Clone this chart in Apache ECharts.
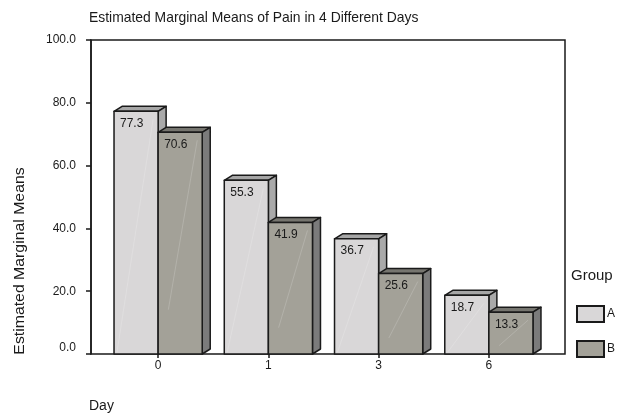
<!DOCTYPE html>
<html>
<head>
<meta charset="utf-8">
<style>
  html, body { margin: 0; padding: 0; background: #fff; }
  #main { width: 623px; height: 414px; }
</style>
</head>
<body>
<div id="main"></div>
<script src="https://cdn.jsdelivr.net/npm/echarts@6/dist/echarts.min.js"></script>
<script>
const days = ["0", "1", "3", "6"];
const groupNames = ["A", "B"];
const groupA = [77.3, 55.3, 36.7, 18.7];
const groupB = [70.6, 41.9, 25.6, 13.3];

const font = "Liberation Sans";
const ink = "#1a1a1a";
const depthX = 8;
const depthY = 5;
const barShare = 0.4;

// one 3D box: top and side faces, then the front with its value
function boxSeries(name, values, offset, front, top, side, streakFrom) {
  return {
    name: name,
    type: "custom",
    xAxisIndex: 1,
    yAxisIndex: 1,
    itemStyle: { color: front, borderColor: ink, borderWidth: 1.5 },
    data: values.map((v, i) => [i, v]),
    renderItem: function (params, api) {
      const base = api.coord([api.value(0), 0]);
      const peak = api.coord([api.value(0), api.value(1)]);
      const w = api.size([1, 0])[0] * barShare;
      const x0 = base[0] + offset * w;
      const x1 = x0 + w;
      const yT = peak[1];
      const yB = base[1];
      const h = yB - yT;
      const edge = { stroke: ink, lineWidth: 1.5, lineJoin: "round" };
      return {
        type: "group",
        children: [
          {
            type: "polygon",
            shape: { points: [[x0, yT], [x0 + depthX, yT - depthY], [x1 + depthX, yT - depthY], [x1, yT]] },
            style: { fill: top, ...edge },
          },
          {
            type: "polygon",
            shape: { points: [[x1, yT], [x1 + depthX, yT - depthY], [x1 + depthX, yB - depthY], [x1, yB]] },
            style: { fill: side, ...edge },
          },
          {
            type: "rect",
            shape: { x: x0, y: yT, width: w, height: h },
            style: { fill: front, ...edge },
          },
          {
            // pale streak across the front face
            type: "line",
            shape: {
              x1: x0 + 3 + streakFrom * (w - 8),
              y1: yB - 2 - streakFrom * (h - 10),
              x2: x1 - 5,
              y2: yT + 8,
            },
            style: { stroke: "#ffffff", lineWidth: 0.8, opacity: 0.22 },
          },
          {
            type: "text",
            style: {
              x: x0 + 6,
              y: yT + 12,
              text: api.value(1).toFixed(1),
              font: "12px '" + font + "'",
              fill: ink,
              align: "left",
              verticalAlign: "middle",
            },
          },
        ],
      };
    },
  };
}

const chart = echarts.init(document.getElementById("main"), null, { renderer: "canvas" });
chart.setOption({
  animation: false,
  backgroundColor: "#fff",
  textStyle: { fontFamily: font },
  title: [
    { text: "Estimated Marginal Means of Pain in 4 Different Days", left: 84, top: 6, textStyle: { fontFamily: font, fontSize: 13.9, fontWeight: "normal", color: ink } },
    { text: "Day", left: 84, top: 394, textStyle: { fontFamily: font, fontSize: 14, fontWeight: "normal", color: ink } },
    { text: "Group", left: 566, top: 263, textStyle: { fontFamily: font, fontSize: 15, fontWeight: "normal", color: ink } },
  ],
  graphic: [
    {
      type: "text",
      x: 20,
      y: 261,
      rotation: Math.PI / 2,
      scaleX: 1.13,
      style: {
        text: "Estimated Marginal Means",
        font: "14px '" + font + "'",
        fill: ink,
        align: "center",
        verticalAlign: "middle",
      },
    },
  ],
  legend: {
    data: groupNames,
    orient: "vertical",
    left: 576,
    top: 305,
    icon: "rect",
    itemWidth: 27,
    itemHeight: 16,
    itemGap: 17,
    textStyle: { fontFamily: font, fontSize: 12, color: ink, padding: [0, 0, 0, -2] },
    padding: 0,
    selectedMode: false,
  },
  grid: [
    // frame of the plot, holds the value axis
    { left: 91, top: 40, width: 474, height: 314, show: true, borderColor: ink, borderWidth: 1.5, backgroundColor: "transparent" },
    // the bars sit in a narrower band inside the frame
    { left: 103, top: 40, width: 441, height: 314 },
  ],
  xAxis: [
    { gridIndex: 0, type: "value", show: false, min: 0, max: 1 },
    {
      gridIndex: 1,
      type: "category",
      data: days,
      axisLine: { show: false },
      axisTick: { show: true, alignWithLabel: true, length: 4, lineStyle: { color: ink, width: 1.5 } },
      axisLabel: { fontFamily: font, fontSize: 12, color: ink, margin: 6 },
    },
  ],
  yAxis: [
    {
      gridIndex: 0,
      type: "value",
      min: 0,
      max: 100,
      interval: 20,
      axisLine: { show: true, lineStyle: { color: ink, width: 1.5 } },
      axisTick: { show: true, length: 5, lineStyle: { color: ink, width: 1.5 } },
      axisLabel: { fontFamily: font, fontSize: 12, color: ink, margin: 15, verticalAlignMinLabel: "bottom", formatter: (v) => v.toFixed(1) },
      splitLine: { show: false },
    },
    { gridIndex: 1, type: "value", min: 0, max: 100, show: false },
  ],
  series: [
    boxSeries(groupNames[0], groupA, -1, "#d9d7d8", "#a6a6a6", "#a9a9a9", 0),
    boxSeries(groupNames[1], groupB, 0, "#a3a198", "#76756f", "#7b7b7b", 0.2),
  ],
});
</script>
</body>
</html>
